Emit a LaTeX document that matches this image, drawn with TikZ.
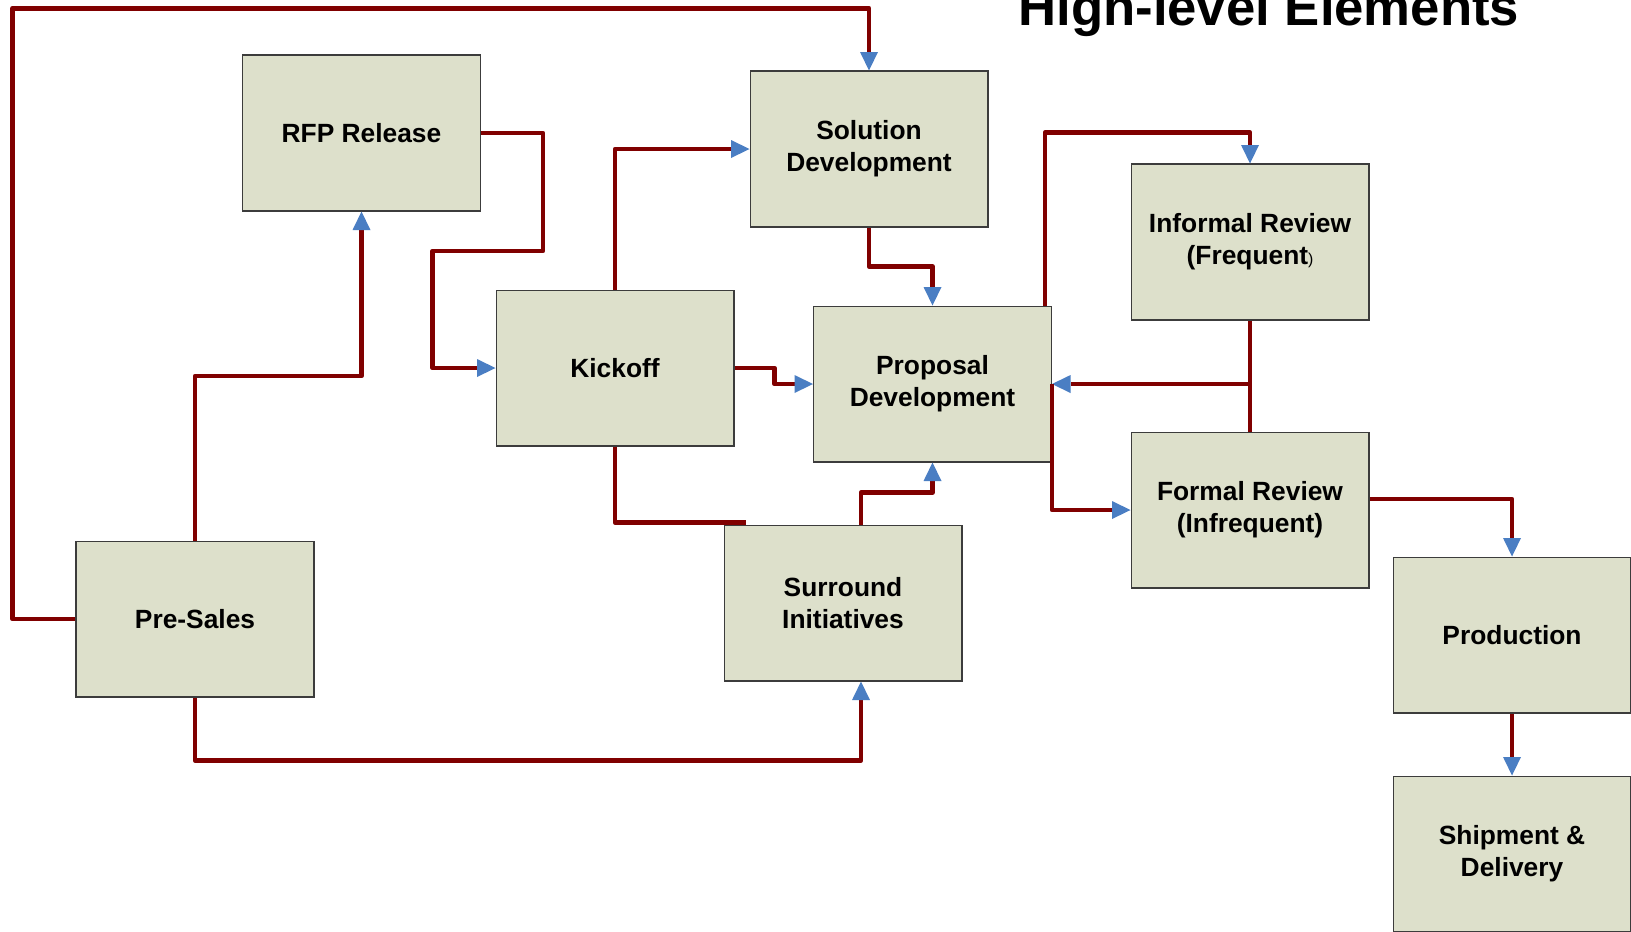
\documentclass[tikz,border=0pt]{standalone}
\usepackage{fontspec}
\setmainfont{Liberation Sans}
\usetikzlibrary{arrows.meta}
\usepackage{xcolor}
\definecolor{linkred}{RGB}{128,0,0}
\definecolor{tipblue}{RGB}{74,126,195}
\definecolor{boxfill}{RGB}{221,224,203}
\definecolor{boxline}{RGB}{60,60,60}

\begin{document}
\begin{tikzpicture}[x=0.02cm, y=-0.02cm,
  block/.style={draw=boxline, line width=0.6pt, fill=boxfill, minimum width=4.76cm, minimum height=3.12cm,
    inner sep=0pt, align=center, font=\fontsize{15}{18.3}\selectfont\bfseries},
  link/.style={draw=linkred, line width=2.7pt, line join=round},
  tolink/.style={link, -{Triangle[length=0.37cm, width=0.36cm, color=tipblue, line width=0pt]}}]

\useasboundingbox (0,0) rectangle (1631,931);

 \begin{scope}
{
\node[anchor=base west, inner sep=0pt, font=\fontsize{30}{36}\selectfont\bfseries] (title) at (1018,25) {High-level Elements};

\node[block] (rfp) at (361.5,133) {RFP Release};
\node[block] (soldev) at (869,149) {Solution\\Development};
\node[block] (kickoff) at (615,368) {Kickoff};
\node[block] (propdev) at (932.5,384) {Proposal\\Development};
\node[block] (informal) at (1250,242) {Informal Review\\(Frequent{\fontsize{9}{9}\selectfont\mdseries )}};
\node[block] (formal) at (1250,510) {Formal Review\\(Infrequent)};
\node[block] (presales) at (195,619) {Pre-Sales};
\node[block] (surround) at (843,603) {Surround\\Initiatives};
\node[block] (production) at (1512,635) {Production};
\node[block] (shipment) at (1512,854) {Shipment \&\\Delivery};


\draw[tolink] (presales.west) -| (12.5,8.3) -| (soldev.north);
\draw[tolink] (presales.north) -- ++(0,-164.5) -| (rfp.south);
\draw[tolink] (presales.south) -- ++(0,63) -| ([xshift=0.36cm]surround.south);

\draw[tolink] (rfp.east) -| ++(62,118) -| ([xshift=-1.26cm]kickoff.west) -- (kickoff.west);

\draw[tolink] (kickoff.north) |- (soldev.west);
\draw[tolink] (kickoff.east) -- ++(40,0) |- (propdev.west);
\draw[link] (kickoff.south) |- ([xshift=0.44cm,yshift=0.04cm]surround.north west);

\draw[tolink] ([xshift=0.36cm]surround.north) -- ++(0,-32) -| (propdev.south);
\draw[tolink] (soldev.south) -- ++(0,39) -| (propdev.north);

\draw[tolink] ([xshift=-0.14cm]propdev.north east) -- ++(0,-173) -| (informal.north);
\draw[link] (informal.south) -- (formal.north);
\draw[tolink] (informal.south |- propdev.east) -- (propdev.east);
\draw[tolink] (propdev.east) |- (formal.west);

\draw[tolink] ([yshift=0.22cm]formal.east) -| (production.north);
\draw[tolink] (production.south) -- (shipment.north);
}
\end{scope}

\end{tikzpicture}
\end{document}
